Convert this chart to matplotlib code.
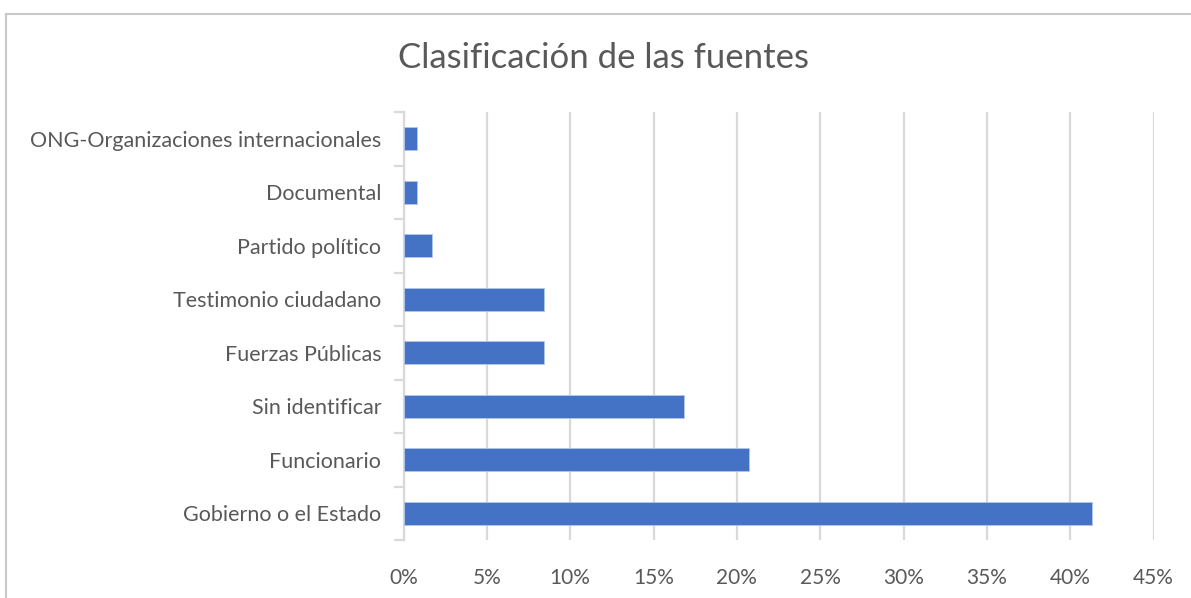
import matplotlib
matplotlib.use("Agg")
import matplotlib.pyplot as plt
from matplotlib.ticker import FuncFormatter, MultipleLocator
from matplotlib.lines import Line2D

categories = ["Gobierno o el Estado", "Funcionario", "Sin identificar", "Fuerzas Públicas",
              "Testimonio ciudadano", "Partido político", "Documental",
              "ONG-Organizaciones internacionales"]
values = [41.3, 20.7, 16.8, 8.4, 8.4, 1.7, 0.8, 0.8]
title = "Clasificación de las fuentes"

W, H = 1191, 598
fig = plt.figure(figsize=(W / 100, H / 100), dpi=100)
plt.rcParams['font.family'] = ['Lato', 'DejaVu Sans']

left, right, top, bottom = 403.5, 1153.5, 112, 540
ax = fig.add_axes([left / W, 1 - bottom / H, (right - left) / W, (bottom - top) / H])

txt = "#595959"
grid = "#d9d9d9"
ypos = list(range(len(categories)))
ax.barh(ypos, values, height=0.43, color="#4472c4", edgecolor="#b4c7e7", linewidth=0.6, zorder=3)
ax.set_xlim(0, 45)
ax.set_ylim(-0.5, len(categories) - 0.5)
ax.xaxis.set_major_locator(MultipleLocator(5))
ax.xaxis.set_major_formatter(FuncFormatter(lambda v, p: f"{v:.0f}%"))
ax.set_yticks(ypos)
ax.set_yticklabels(categories)
ax.set_yticks([i - 0.5 for i in range(len(categories) + 1)], minor=True)

ax.grid(axis="x", color=grid, linewidth=1.6, zorder=0)
for s in ["top", "right", "bottom"]:
    ax.spines[s].set_visible(False)
ax.spines["left"].set_color(grid)
ax.spines["left"].set_linewidth(1.6)

ax.tick_params(axis="x", length=0, pad=20, labelsize=15, labelcolor=txt)
ax.tick_params(axis="y", which="major", length=0, pad=16, labelsize=15.5, labelcolor=txt)
ax.tick_params(axis="y", which="minor", length=7, width=1.6, color=grid)

fig.text(603 / W, 1 - 58 / H, title, ha="center", va="center", fontsize=25, color=txt)

# chart frame (top and left edges)
fig.add_artist(Line2D([6 / W, 1], [1 - 13.5 / H, 1 - 13.5 / H], color="#c8c8c8", linewidth=1.5,
                      transform=fig.transFigure))
fig.add_artist(Line2D([6 / W, 6 / W], [0, 1 - 13.5 / H], color="#c8c8c8", linewidth=1.5,
                      transform=fig.transFigure))

fig.savefig("out.png", dpi=100)
